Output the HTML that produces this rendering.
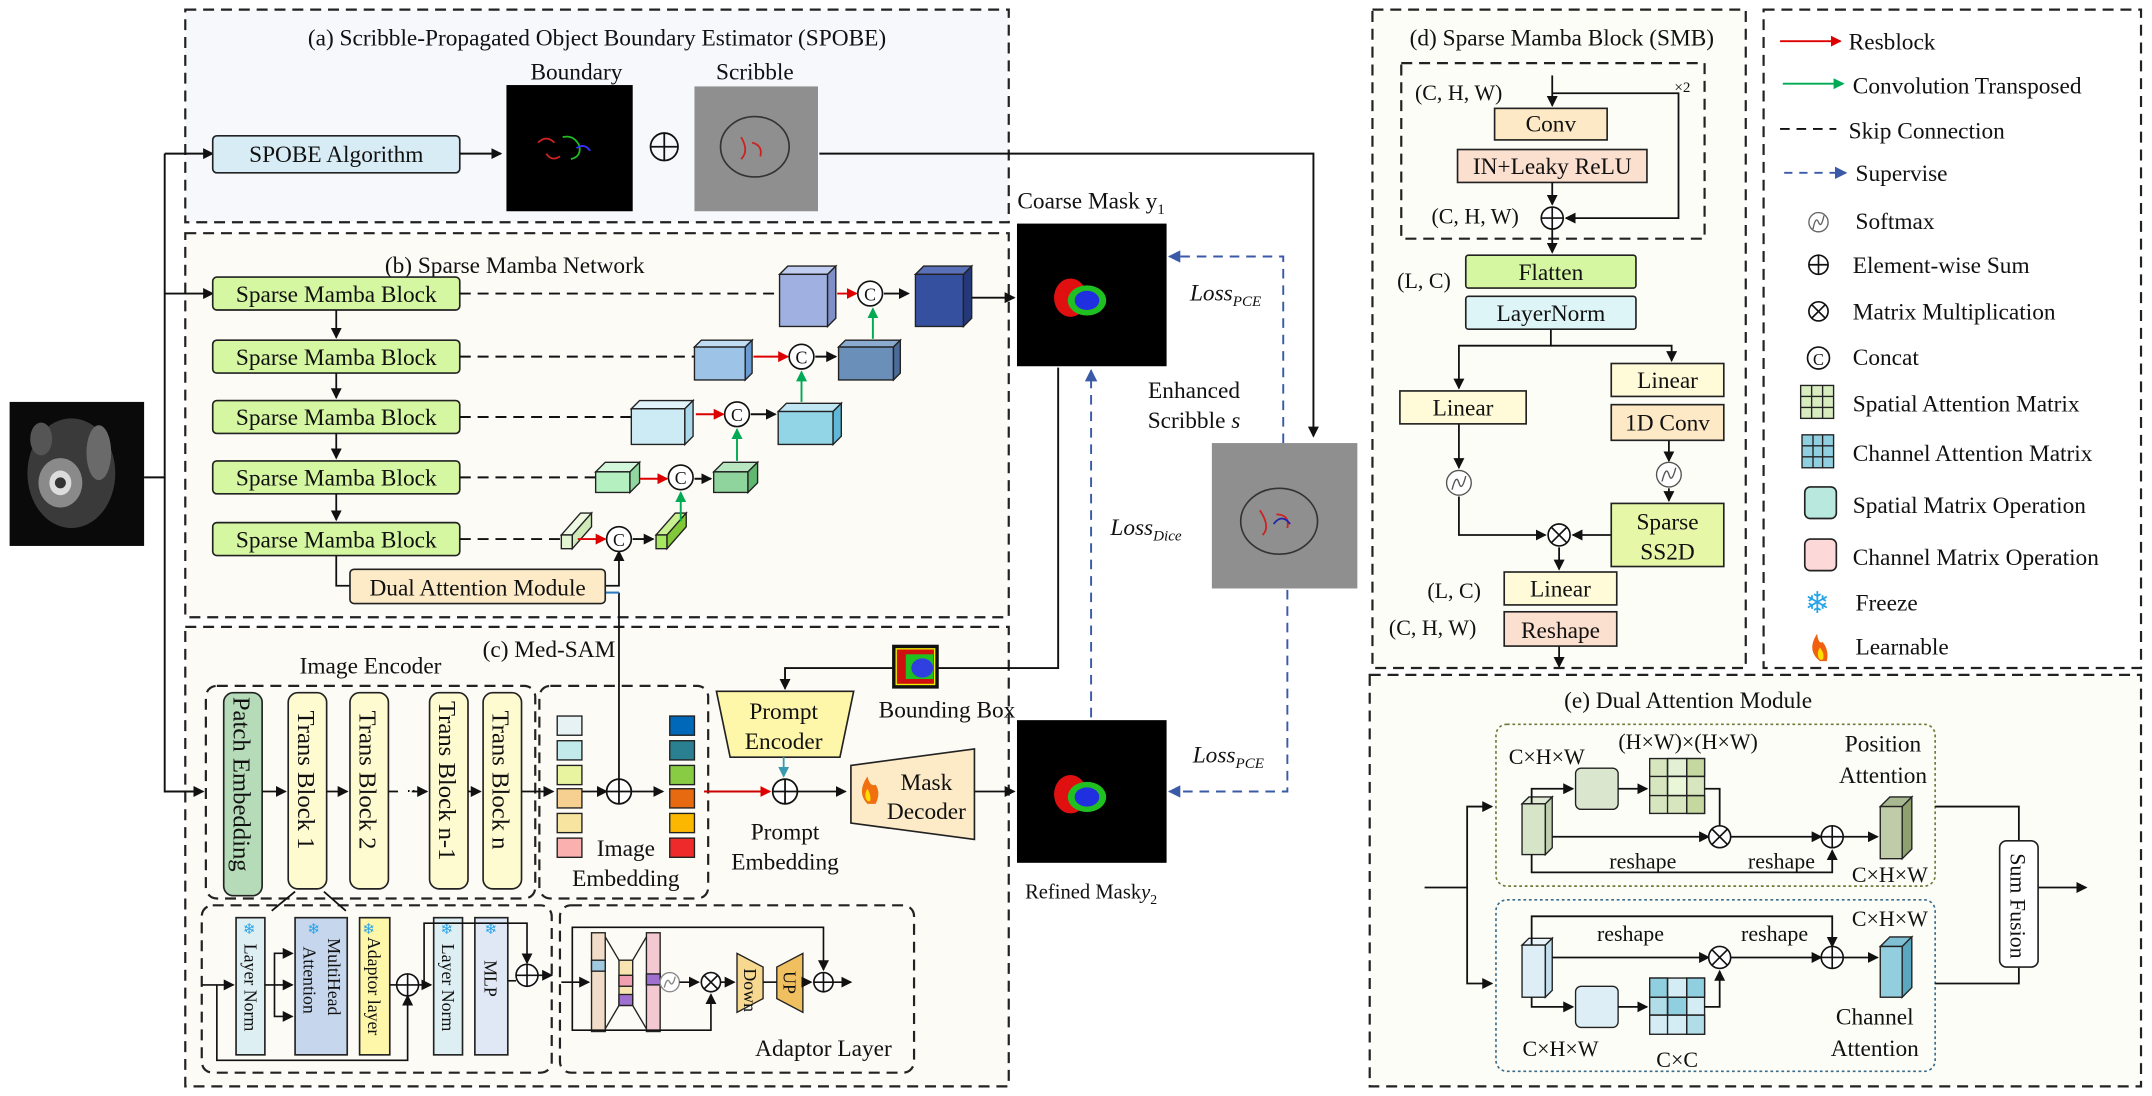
<!DOCTYPE html>
<html><head><meta charset="utf-8"><style>
html,body{margin:0;padding:0;background:#fff}
svg{display:block}
text{font-family:"Liberation Serif",serif;fill:#111}
</style></head><body>
<svg width="2152" height="1096" viewBox="0 0 1568 799" preserveAspectRatio="none" xmlns="http://www.w3.org/2000/svg">
<defs>
<marker id="ak" markerWidth="8" markerHeight="8" refX="7" refY="4" orient="auto" markerUnits="userSpaceOnUse"><path d="M0,0 L8,4 L0,8 z" fill="#111"/></marker>
<marker id="ar" markerWidth="8" markerHeight="8" refX="7" refY="4" orient="auto" markerUnits="userSpaceOnUse"><path d="M0,0 L8,4 L0,8 z" fill="#d00"/></marker>
<marker id="ag" markerWidth="8" markerHeight="8" refX="7" refY="4" orient="auto" markerUnits="userSpaceOnUse"><path d="M0,0 L8,4 L0,8 z" fill="#0a5"/></marker>
<marker id="ab" markerWidth="9" markerHeight="9" refX="8" refY="4.5" orient="auto" markerUnits="userSpaceOnUse"><path d="M0,0 L9,4.5 L0,9 z" fill="#3a5aa8"/></marker>
<marker id="at" markerWidth="8" markerHeight="8" refX="7" refY="4" orient="auto" markerUnits="userSpaceOnUse"><path d="M0,0 L8,4 L0,8 z" fill="#3a9ab0"/></marker>
</defs>
<rect width="1568" height="799" fill="#fff"/>
<g fill="none" stroke="#222" stroke-width="1.6" stroke-dasharray="8,5">
<rect x="135" y="7" width="600" height="155" fill="#f6f8fc"/>
<rect x="135" y="170" width="600" height="280" fill="#fcfbf6"/>
<rect x="135" y="457" width="600" height="335" fill="#fcfbf6"/>
<rect x="1000" y="7" width="272" height="480" fill="#fcfdf7"/>
<rect x="1285" y="7" width="275" height="480" fill="#fff"/>
<rect x="998" y="492" width="562" height="300" fill="#fcfdf7"/>
<rect x="1021" y="46" width="221" height="128"/>
<rect x="150" y="500" width="240" height="155" rx="8"/>
<rect x="393" y="500" width="123" height="155" rx="8"/>
<rect x="147" y="660" width="255" height="122" rx="8"/>
<rect x="408" y="660" width="258" height="122" rx="8"/>
</g>
<!-- input image -->
<rect x="7" y="293" width="98" height="105" fill="#0a0a0a"/>
<ellipse cx="52" cy="345" rx="32" ry="40" fill="#3a3a3a"/>
<ellipse cx="44" cy="352" rx="16" ry="18" fill="#8a8a8a"/>
<ellipse cx="44" cy="352" rx="8" ry="9" fill="#dcdcdc"/>
<ellipse cx="44" cy="352" rx="4" ry="4" fill="#333"/>
<ellipse cx="72" cy="330" rx="9" ry="20" fill="#6a6a6a"/>
<ellipse cx="30" cy="320" rx="8" ry="12" fill="#555"/>
<g stroke="#111" stroke-width="1.4" fill="none">
<path d="M105,348 H120 V112"/>
<path d="M120,112 H155" marker-end="url(#ak)"/>
<path d="M120,214 H155" marker-end="url(#ak)"/>
<path d="M120,348 V577 H148" marker-end="url(#ak)"/>
</g>
<text x="435" y="33" font-size="17" text-anchor="middle">(a) Scribble-Propagated Object Boundary Estimator (SPOBE)</text>
<text x="420" y="58" font-size="17" text-anchor="middle">Boundary</text>
<text x="550" y="58" font-size="17" text-anchor="middle">Scribble</text>
<rect x="155" y="99" width="180" height="27" rx="3" fill="#d8ecf6" stroke="#222" stroke-width="1.2"/>
<text x="245" y="118" font-size="17" text-anchor="middle">SPOBE Algorithm</text>
<path d="M335,112 H365" stroke="#111" stroke-width="1.4" marker-end="url(#ak)"/>
<rect x="369" y="62" width="92" height="92" fill="#000"/>
<path d="M392,104 q6,-6 12,0 M398,112 q4,6 10,2" fill="none" stroke="#c22" stroke-width="1.3"/>
<path d="M410,100 q8,-2 12,6 q2,8 -6,10" fill="none" stroke="#2b2" stroke-width="1.3"/>
<path d="M420,108 q6,-4 10,2" fill="none" stroke="#33f" stroke-width="1.3"/>
<circle cx="484" cy="107" r="10" fill="none" stroke="#111" stroke-width="1.3"/><path d="M474,107 H494 M484,97 V117" stroke="#111" stroke-width="1.3"/>
<rect x="506" y="63" width="90" height="91" fill="#8f8f8f"/>
<ellipse cx="550" cy="107" rx="25" ry="22" fill="none" stroke="#333" stroke-width="1.2"/>
<path d="M540,100 q6,10 0,16 M548,104 q8,2 6,10" fill="none" stroke="#c22" stroke-width="1.3"/>
<path d="M597,112 H957 V318" fill="none" stroke="#111" stroke-width="1.4" marker-end="url(#ak)"/>
<!-- (b) -->
<text x="375" y="199" font-size="17" text-anchor="middle">(b) Sparse Mamba Network</text>
<g stroke="#222" stroke-width="1.2" fill="#d6f7a2">
<rect x="155" y="202" width="180" height="24" rx="3"/>
<rect x="155" y="248" width="180" height="24" rx="3"/>
<rect x="155" y="292" width="180" height="24" rx="3"/>
<rect x="155" y="336" width="180" height="24" rx="3"/>
<rect x="155" y="381" width="180" height="24" rx="3"/>
</g>
<g font-size="17" text-anchor="middle">
<text x="245" y="220">Sparse Mamba Block</text>
<text x="245" y="266">Sparse Mamba Block</text>
<text x="245" y="310">Sparse Mamba Block</text>
<text x="245" y="354">Sparse Mamba Block</text>
<text x="245" y="399">Sparse Mamba Block</text>
</g>
<g stroke="#111" stroke-width="1.3" fill="none">
<path d="M245,226 V246" marker-end="url(#ak)"/>
<path d="M245,272 V290" marker-end="url(#ak)"/>
<path d="M245,316 V334" marker-end="url(#ak)"/>
<path d="M245,360 V379" marker-end="url(#ak)"/>
<path d="M245,405 V427 H255"/>
<path d="M441,427 H451 V402" marker-end="url(#ak)"/>
<path d="M451,432 V570" />
</g>
<path d="M441,432 H451" stroke="#2a7ac0" stroke-width="1.5"/>
<g stroke="#111" stroke-width="1.4" stroke-dasharray="8,5" fill="none">
<path d="M335,214 H568"/><path d="M335,260 H506"/><path d="M335,304 H460"/><path d="M335,348 H434"/><path d="M335,393 H409"/>
</g>
<g stroke="#222" stroke-width="1">
<polygon points="568,200 574,194 609,194 603,200" fill="#c0ccf0"/><rect x="568" y="200" width="35" height="38" fill="#a0b0e0"/><polygon points="603,200 609,194 609,232 603,238" fill="#7f90c8"/>
<polygon points="667,200 673,194 708,194 702,200" fill="#5a70b8"/><rect x="667" y="200" width="35" height="38" fill="#3650a0"/><polygon points="702,200 708,194 708,232 702,238" fill="#24397a"/>
<polygon points="506,253 511,248 548,248 543,253" fill="#c0dcf2"/><rect x="506" y="253" width="37" height="24" fill="#9dc3e6"/><polygon points="543,253 548,248 548,272 543,277" fill="#6a9ad0"/>
<polygon points="611,253 616,248 656,248 651,253" fill="#8aaad0"/><rect x="611" y="253" width="40" height="24" fill="#6a8fb8"/><polygon points="651,253 656,248 656,272 651,277" fill="#4a6a98"/>
<polygon points="460,298 466,292 505,292 499,298" fill="#e2f4fa"/><rect x="460" y="298" width="39" height="26" fill="#cdebf5"/><polygon points="499,298 505,292 505,318 499,324" fill="#a8d8ea"/>
<polygon points="567,300 573,294 613,294 607,300" fill="#bfe6f2"/><rect x="567" y="300" width="40" height="24" fill="#92d5e6"/><polygon points="607,300 613,294 613,318 607,324" fill="#60b8d8"/>
<polygon points="434,344 441,337 466,337 459,344" fill="#d2f7da"/><rect x="434" y="344" width="25" height="15" fill="#b5f0c0"/><polygon points="459,344 466,337 466,352 459,359" fill="#90d8a0"/>
<polygon points="520,344 527,337 552,337 545,344" fill="#b8e6c0"/><rect x="520" y="344" width="25" height="15" fill="#8fd49c"/><polygon points="545,344 552,337 552,352 545,359" fill="#60b870"/>
<polygon points="409,390 423,374 431,374 417,390" fill="#eef9e4"/><rect x="409" y="390" width="8" height="10" fill="#e4f5d4"/><polygon points="417,390 431,374 431,384 417,400" fill="#cfeab8"/>
<polygon points="478,390 492,374 500,374 486,390" fill="#c8f090"/><rect x="478" y="390" width="8" height="10" fill="#a8e860"/><polygon points="486,390 500,374 500,384 486,400" fill="#80c838"/>
</g>
<g stroke-width="1.4" fill="none">
<path d="M610,214 H624" stroke="#d00" marker-end="url(#ar)"/>
<path d="M644,214 H662" stroke="#111" marker-end="url(#ak)"/>
<path d="M549,260 H574" stroke="#d00" marker-end="url(#ar)"/>
<path d="M594,260 H609" stroke="#111" marker-end="url(#ak)"/>
<path d="M507,302 H527" stroke="#d00" marker-end="url(#ar)"/>
<path d="M547,302 H565" stroke="#111" marker-end="url(#ak)"/>
<path d="M466,349 H486" stroke="#d00" marker-end="url(#ar)"/>
<path d="M506,349 H518" stroke="#111" marker-end="url(#ak)"/>
<path d="M421,393 H441" stroke="#d00" marker-end="url(#ar)"/>
<path d="M461,393 H476" stroke="#111" marker-end="url(#ak)"/>
<path d="M636,247 V225" stroke="#0a5" marker-end="url(#ag)"/>
<path d="M584,293 V271" stroke="#0a5" marker-end="url(#ag)"/>
<path d="M537,336 V313" stroke="#0a5" marker-end="url(#ag)"/>
<path d="M496,380 V359" stroke="#0a5" marker-end="url(#ag)"/>
<path d="M708,217 H739" stroke="#111" marker-end="url(#ak)"/>
</g>
<g fill="#fff" stroke="#111" stroke-width="1.2">
<circle cx="634" cy="214" r="9"/><circle cx="584" cy="260" r="9"/><circle cx="537" cy="302" r="9"/><circle cx="496" cy="348" r="9"/><circle cx="451" cy="393" r="9"/>
</g>
<g font-size="13" text-anchor="middle">
<text x="634" y="219">C</text><text x="584" y="265">C</text><text x="537" y="307">C</text><text x="496" y="353">C</text><text x="451" y="398">C</text>
</g>
<rect x="255" y="415" width="186" height="25" rx="3" fill="#fdebc8" stroke="#222" stroke-width="1.2"/>
<text x="348" y="434" font-size="17" text-anchor="middle">Dual Attention Module</text>
<!-- masks -->
<text x="795" y="152" font-size="17" text-anchor="middle">Coarse Mask  y<tspan font-size="11" dy="4">1</tspan></text>
<rect x="741" y="163" width="109" height="104" fill="#000"/>
<ellipse cx="780" cy="217" rx="12" ry="14" fill="#e01010"/>
<ellipse cx="792" cy="219" rx="14" ry="11" fill="#20c020"/>
<ellipse cx="792" cy="219" rx="9" ry="7" fill="#2030e0"/>
<text x="870" y="290" font-size="17" text-anchor="middle">Enhanced</text>
<text x="870" y="312" font-size="17" text-anchor="middle">Scribble <tspan font-style="italic">s</tspan></text>
<text x="893" y="219" font-size="17" font-style="italic" text-anchor="middle">Loss<tspan font-size="11" dy="4">PCE</tspan></text>
<text x="835" y="390" font-size="17" font-style="italic" text-anchor="middle">Loss<tspan font-size="11" dy="4">Dice</tspan></text>
<text x="895" y="556" font-size="17" font-style="italic" text-anchor="middle">Loss<tspan font-size="11" dy="4">PCE</tspan></text>
<rect x="883" y="323" width="106" height="106" fill="#8f8f8f"/>
<ellipse cx="932" cy="380" rx="28" ry="24" fill="none" stroke="#333" stroke-width="1.2"/>
<path d="M918,372 q8,12 2,18 M930,375 q10,0 8,10" fill="none" stroke="#c22" stroke-width="1.3"/>
<path d="M928,382 q6,-8 12,0" fill="none" stroke="#22a" stroke-width="1.3"/>
<g stroke="#3a5aa8" stroke-width="1.4" stroke-dasharray="7,5" fill="none">
<path d="M935,323 V187 H852" marker-end="url(#ab)"/>
<path d="M795,523 V270" marker-end="url(#ab)"/>
<path d="M938,430 V577 H852" marker-end="url(#ab)"/>
</g>
<path d="M771,268 V487 H572 V502" fill="none" stroke="#111" stroke-width="1.4" marker-end="url(#ak)"/>
<rect x="741" y="525" width="109" height="104" fill="#000"/>
<ellipse cx="780" cy="579" rx="12" ry="14" fill="#e01010"/>
<ellipse cx="792" cy="581" rx="14" ry="11" fill="#20c020"/>
<ellipse cx="792" cy="581" rx="9" ry="7" fill="#2030e0"/>
<text x="795" y="655" font-size="15" text-anchor="middle">Refined  Mask<tspan font-style="italic">y</tspan><tspan font-size="10" dy="4">2</tspan></text>
<!-- (c) -->
<text x="400" y="479" font-size="17" text-anchor="middle">(c) Med-SAM</text>
<text x="270" y="491" font-size="17" text-anchor="middle">Image Encoder</text>
<rect x="163" y="505" width="28" height="148" rx="7" fill="#b5dbb8" stroke="#222" stroke-width="1.2"/>
<g fill="#fffbd0" stroke="#222" stroke-width="1.2">
<rect x="210" y="505" width="28" height="143" rx="7"/><rect x="255" y="505" width="28" height="143" rx="7"/><rect x="313" y="505" width="28" height="143" rx="7"/><rect x="352" y="505" width="28" height="143" rx="7"/>
</g>
<g font-size="18">
<text transform="translate(170,508) rotate(90)">Patch Embedding</text>
<text transform="translate(217,518) rotate(90)">Trans Block 1</text>
<text transform="translate(262,518) rotate(90)">Trans Block 2</text>
<text transform="translate(320,511) rotate(90)">Trans Block n-1</text>
<text transform="translate(359,518) rotate(90)">Trans Block n</text>
</g>
<text x="296" y="580" font-size="11">⋯</text>
<g stroke="#111" stroke-width="1.3" fill="none">
<path d="M191,577 H208" marker-end="url(#ak)"/><path d="M238,577 H253" marker-end="url(#ak)"/><path d="M283,577 H290"/><path d="M300,577 H311" marker-end="url(#ak)"/><path d="M341,577 H350" marker-end="url(#ak)"/>
<path d="M380,577 H403" marker-end="url(#ak)"/>
<path d="M420,577 H442" marker-end="url(#ak)"/><path d="M460,577 H483" marker-end="url(#ak)"/>
<path d="M580,577 H616" marker-end="url(#ak)"/>
<path d="M710,577 H739" marker-end="url(#ak)"/>
<path d="M451,570 V568" marker-end="url(#ak)"/>
<path d="M215,650 L198,664 M236,650 L252,664"/>
</g>
<path d="M513,577 H561" stroke="#c00" stroke-width="1.4" marker-end="url(#ar)"/>
<g stroke="#222" stroke-width="1">
<rect x="406" y="522" width="18" height="14" fill="#e6f2f4"/><rect x="406" y="540" width="18" height="14" fill="#c2eaea"/><rect x="406" y="558" width="18" height="14" fill="#e8f4a0"/><rect x="406" y="575" width="18" height="14" fill="#f6d090"/><rect x="406" y="593" width="18" height="14" fill="#f6e4a0"/><rect x="406" y="611" width="18" height="14" fill="#fbb0b0"/>
<rect x="488" y="522" width="18" height="14" fill="#0068b8"/><rect x="488" y="540" width="18" height="14" fill="#2a8090"/><rect x="488" y="558" width="18" height="14" fill="#88cc44"/><rect x="488" y="575" width="18" height="14" fill="#e86a10"/><rect x="488" y="593" width="18" height="14" fill="#fcb800"/><rect x="488" y="611" width="18" height="14" fill="#ee2a2a"/>
</g>
<circle cx="451" cy="577" r="9" fill="#fff" stroke="#111" stroke-width="1.3"/><path d="M442,577 H460 M451,568 V586" stroke="#111" stroke-width="1.3"/>
<text x="456" y="624" font-size="17" text-anchor="middle">Image</text>
<text x="456" y="646" font-size="17" text-anchor="middle">Embedding</text>
<polygon points="522,504 622,504 612,552 532,552" fill="#fef6a8" stroke="#222" stroke-width="1.2"/>
<text x="571" y="524" font-size="17" text-anchor="middle">Prompt</text>
<text x="571" y="546" font-size="17" text-anchor="middle">Encoder</text>
<path d="M571,552 V566" stroke="#3a9ab0" stroke-width="1.3" marker-end="url(#at)"/>
<circle cx="572" cy="577" r="9" fill="#fff" stroke="#111" stroke-width="1.3"/><path d="M563,577 H581 M572,568 V586" stroke="#111" stroke-width="1.3"/>
<text x="572" y="612" font-size="17" text-anchor="middle">Prompt</text>
<text x="572" y="634" font-size="17" text-anchor="middle">Embedding</text>
<rect x="650" y="470" width="34" height="32" fill="#111"/>
<rect x="653" y="473" width="28" height="26" fill="#d01010" stroke="#ee0" stroke-width="1"/>
<rect x="660" y="477" width="20" height="18" fill="#20c020"/><ellipse cx="672" cy="487" rx="8" ry="7" fill="#3040e0"/>
<text x="690" y="523" font-size="17" text-anchor="middle">Bounding Box</text>
<polygon points="620,558 710,546 710,612 620,600" fill="#fdebc8" stroke="#222" stroke-width="1.2"/>
<text x="675" y="576" font-size="17" text-anchor="middle">Mask</text>
<text x="675" y="597" font-size="17" text-anchor="middle">Decoder</text>
<path d="M632,586 q-8,-8 0,-20 q2,8 6,6 q4,6 0,14 z" fill="#f07010"/><path d="M632,584 q-3,-4 0,-9 q3,5 2,9z" fill="#fd0"/>
<g stroke="#222" stroke-width="1.2">
<rect x="172" y="669" width="21" height="100" fill="#ddeff3"/>
<rect x="215" y="669" width="38" height="100" fill="#c6d6ec"/>
<rect x="262" y="669" width="22" height="100" fill="#fef6a8"/>
<rect x="316" y="669" width="21" height="100" fill="#ddeff3"/>
<rect x="346" y="669" width="24" height="100" fill="#dfe8f4"/>
</g>
<g font-size="13">
<text transform="translate(178,688) rotate(90)">Layer Norm</text>
<text transform="translate(239,684) rotate(90)">MultiHead</text>
<text transform="translate(221,690) rotate(90)">Attention</text>
<text transform="translate(268,683) rotate(90)">Adaptor layer</text>
<text transform="translate(322,688) rotate(90)">Layer Norm</text>
<text transform="translate(353,700) rotate(90)">MLP</text>
</g>
<g fill="#29a3e8" font-size="11">
<text x="177" y="681" style="fill:#29a3e8">❄</text><text x="224" y="681" style="fill:#29a3e8">❄</text><text x="264" y="681" style="fill:#29a3e8">❄</text><text x="321" y="681" style="fill:#29a3e8">❄</text><text x="353" y="681" style="fill:#29a3e8">❄</text>
</g>
<g stroke="#111" stroke-width="1.2" fill="none">
<path d="M147,718 H170" marker-end="url(#ak)"/>
<path d="M158,718 V773 H297 V726" marker-end="url(#ak)"/>
<path d="M193,718 H213" marker-end="url(#ak)"/>
<path d="M200,718 V695 H213" marker-end="url(#ak)"/><path d="M200,718 V741 H213" marker-end="url(#ak)"/>
<path d="M284,718 H289"/><path d="M305,718 H314" marker-end="url(#ak)"/>
<path d="M309,718 V673 H384 V702" marker-end="url(#ak)"/>
<path d="M370,715 H376"/><path d="M392,711 H402" marker-end="url(#ak)"/>
</g>
<circle cx="297" cy="718" r="8" fill="#fff" stroke="#111" stroke-width="1.2"/><path d="M289,718 H305 M297,710 V726" stroke="#111" stroke-width="1.2"/>
<circle cx="384" cy="711" r="8" fill="#fff" stroke="#111" stroke-width="1.2"/><path d="M376,711 H392 M384,703 V719" stroke="#111" stroke-width="1.2"/>
<g stroke="#222" stroke-width="1">
<rect x="431" y="680" width="10" height="72" fill="#f0dcc8"/>
<rect x="451" y="700" width="10" height="33" fill="#f8e4b0"/>
<rect x="471" y="680" width="10" height="72" fill="#f4c8d0"/>
<rect x="451" y="711" width="10" height="8" fill="#f0a0b0"/><rect x="451" y="725" width="10" height="8" fill="#a070d0"/>
<rect x="471" y="710" width="10" height="8" fill="#a070d0"/><rect x="431" y="700" width="10" height="8" fill="#a0c8e0"/>
</g>
<path d="M441,683 L451,700 M441,750 L451,733 M461,700 L471,683 M461,733 L471,750" stroke="#222" stroke-width="1"/>
<circle cx="488" cy="716" r="7" fill="#fff" stroke="#888" stroke-width="1"/><path d="M484,720 q2,-8 4,-4 q2,4 4,-4" fill="none" stroke="#888"/>
<circle cx="518" cy="716" r="7" fill="#fff" stroke="#111" stroke-width="1.2"/><path d="M513,711 L523,721 M523,711 L513,721" stroke="#111" stroke-width="1.2"/>
<polygon points="537,695 556,705 556,728 537,738" fill="#f6d890" stroke="#222" stroke-width="1"/>
<polygon points="566,705 585,695 585,738 566,728" fill="#f0c060" stroke="#222" stroke-width="1"/>
<text transform="translate(542,706) rotate(90)" font-size="13">Down</text>
<text transform="translate(571,708) rotate(90)" font-size="13">UP</text>
<circle cx="600" cy="716" r="7" fill="#fff" stroke="#111" stroke-width="1.2"/><path d="M593,716 H607 M600,709 V723" stroke="#111" stroke-width="1.2"/>
<g stroke="#111" stroke-width="1.2" fill="none">
<path d="M409,716 H429" marker-end="url(#ak)"/>
<path d="M417,716 V676 H600 V707" marker-end="url(#ak)"/>
<path d="M417,716 V751 H518 V725" marker-end="url(#ak)"/>
<path d="M495,716 H509" marker-end="url(#ak)"/><path d="M525,716 H535" marker-end="url(#ak)"/>
<path d="M556,716 H566"/><path d="M585,716 H591" marker-end="url(#ak)"/><path d="M607,716 H620" marker-end="url(#ak)"/>
</g>
<text x="600" y="770" font-size="17" text-anchor="middle">Adaptor Layer</text>
<!-- (d) -->
<text x="1138" y="33" font-size="17" text-anchor="middle">(d) Sparse Mamba Block (SMB)</text>
<text x="1031" y="73" font-size="16">(C, H, W)</text>
<text x="1220" y="67" font-size="11">×2</text>
<rect x="1089" y="79" width="82" height="23" fill="#fde9c6" stroke="#222" stroke-width="1.2"/>
<text x="1130" y="96" font-size="17" text-anchor="middle">Conv</text>
<rect x="1062" y="109" width="138" height="24" fill="#fbe0d0" stroke="#222" stroke-width="1.2"/>
<text x="1131" y="127" font-size="17" text-anchor="middle">IN+Leaky ReLU</text>
<text x="1043" y="163" font-size="16">(C, H, W)</text>
<circle cx="1131" cy="159" r="8" fill="#fff" stroke="#111" stroke-width="1.2"/><path d="M1123,159 H1139 M1131,151 V167" stroke="#111" stroke-width="1.2"/>
<g stroke="#111" stroke-width="1.3" fill="none">
<path d="M1131,55 V77" marker-end="url(#ak)"/>
<path d="M1131,68 H1223 V159 H1141" marker-end="url(#ak)"/>
<path d="M1131,133 V149" marker-end="url(#ak)"/>
<path d="M1131,167 V184" marker-end="url(#ak)"/>
<path d="M1130,240 V252 H1063 V283" marker-end="url(#ak)"/>
<path d="M1130,252 H1218 V263" marker-end="url(#ak)"/>
<path d="M1063,309 V341" marker-end="url(#ak)"/>
<path d="M1216,321 V336" marker-end="url(#ak)"/>
<path d="M1216,356 V365" marker-end="url(#ak)"/>
<path d="M1063,362 V390 H1126" marker-end="url(#ak)"/>
<path d="M1174,390 H1146" marker-end="url(#ak)"/>
<path d="M1136,399 V415" marker-end="url(#ak)"/>
<path d="M1136,471 V486" marker-end="url(#ak)"/>
</g>
<rect x="1068" y="186" width="124" height="24" rx="2" fill="#d6f7a2" stroke="#222" stroke-width="1.2"/>
<text x="1130" y="204" font-size="17" text-anchor="middle">Flatten</text>
<text x="1018" y="210" font-size="16">(L, C)</text>
<rect x="1068" y="216" width="124" height="24" rx="2" fill="#ddf5f6" stroke="#222" stroke-width="1.2"/>
<text x="1130" y="234" font-size="17" text-anchor="middle">LayerNorm</text>
<rect x="1020" y="285" width="92" height="24" fill="#fffbd8" stroke="#222" stroke-width="1.2"/>
<text x="1066" y="303" font-size="17" text-anchor="middle">Linear</text>
<rect x="1174" y="265" width="82" height="24" fill="#fffbd8" stroke="#222" stroke-width="1.2"/>
<text x="1215" y="283" font-size="17" text-anchor="middle">Linear</text>
<rect x="1174" y="295" width="82" height="26" fill="#fde9c6" stroke="#222" stroke-width="1.2"/>
<text x="1215" y="314" font-size="17" text-anchor="middle">1D Conv</text>
<circle cx="1063" cy="352" r="9" fill="#fff" stroke="#555" stroke-width="1"/><path d="M1058,357 q3,-12 5,-5 q2,7 5,-5" fill="none" stroke="#555"/>
<circle cx="1216" cy="346" r="9" fill="#fff" stroke="#555" stroke-width="1"/><path d="M1211,351 q3,-12 5,-5 q2,7 5,-5" fill="none" stroke="#555"/>
<rect x="1174" y="367" width="82" height="46" fill="#e6f8a8" stroke="#222" stroke-width="1.2"/>
<text x="1215" y="386" font-size="17" text-anchor="middle">Sparse</text>
<text x="1215" y="408" font-size="17" text-anchor="middle">SS2D</text>
<circle cx="1136" cy="390" r="8" fill="#fff" stroke="#111" stroke-width="1.2"/><path d="M1130,384 L1142,396 M1142,384 L1130,396" stroke="#111" stroke-width="1.2"/>
<rect x="1096" y="417" width="82" height="24" fill="#fffbd8" stroke="#222" stroke-width="1.2"/>
<text x="1137" y="435" font-size="17" text-anchor="middle">Linear</text>
<text x="1040" y="436" font-size="16">(L, C)</text>
<rect x="1096" y="446" width="82" height="25" fill="#fbe0d0" stroke="#222" stroke-width="1.2"/>
<text x="1137" y="465" font-size="17" text-anchor="middle">Reshape</text>
<text x="1012" y="463" font-size="16">(C, H, W)</text>
<!-- legend -->
<g stroke-width="1.4" fill="none">
<path d="M1297,30 H1341" stroke="#d00" marker-end="url(#ar)"/>
<path d="M1299,61 H1343" stroke="#0a5" marker-end="url(#ag)"/>
<path d="M1297,94 H1338" stroke="#111" stroke-dasharray="7,5"/>
<path d="M1300,126 H1345" stroke="#3a5aa8" stroke-dasharray="6,5" marker-end="url(#ab)"/>
</g>
<g font-size="17">
<text x="1347" y="36">Resblock</text>
<text x="1350" y="68">Convolution Transposed</text>
<text x="1347" y="101">Skip Connection</text>
<text x="1352" y="132">Supervise</text>
<text x="1352" y="167">Softmax</text>
<text x="1350" y="199">Element-wise Sum</text>
<text x="1350" y="233">Matrix Multiplication</text>
<text x="1350" y="266">Concat</text>
<text x="1350" y="300">Spatial Attention Matrix</text>
<text x="1350" y="336">Channel Attention Matrix</text>
<text x="1350" y="374">Spatial Matrix Operation</text>
<text x="1350" y="412">Channel Matrix Operation</text>
<text x="1352" y="445">Freeze</text>
<text x="1352" y="477">Learnable</text>
</g>
<circle cx="1325" cy="162" r="7" fill="#fff" stroke="#666"/><path d="M1321,167 q2,-10 4,-5 q2,5 4,-5" fill="none" stroke="#666"/>
<circle cx="1325" cy="193" r="7" fill="#fff" stroke="#111" stroke-width="1.2"/><path d="M1318,193 H1332 M1325,186 V200" stroke="#111" stroke-width="1.2"/>
<circle cx="1325" cy="227" r="7" fill="#fff" stroke="#111" stroke-width="1.2"/><path d="M1320,222 L1330,232 M1330,222 L1320,232" stroke="#111" stroke-width="1.2"/>
<circle cx="1325" cy="261" r="8" fill="#fff" stroke="#111" stroke-width="1.2"/><text x="1325" y="266" font-size="12" text-anchor="middle">C</text>
<g stroke="#222" stroke-width="1">
<rect x="1312" y="281" width="24" height="24" fill="#d8ecc0"/><path d="M1320,281 V305 M1328,281 V305 M1312,289 H1336 M1312,297 H1336"/>
<rect x="1313" y="317" width="23" height="24" fill="#8fcfe0"/><path d="M1321,317 V341 M1328,317 V341 M1313,325 H1336 M1313,333 H1336"/>
</g>
<rect x="1315" y="355" width="23" height="23" rx="4" fill="#b8e8de" stroke="#222" stroke-width="1.2"/>
<rect x="1315" y="393" width="23" height="23" rx="4" fill="#fdd8d8" stroke="#222" stroke-width="1.2"/>
<text x="1315" y="447" font-size="22" style="fill:#29a3e8">❄</text>
<path d="M1326,482 q-10,-8 -2,-20 q1,8 4,6 q5,6 3,14 z" fill="#f06010"/><path d="M1326,481 q-3,-4 0,-9 q4,5 2,9z" fill="#fd0"/>
<!-- (e) -->
<text x="1230" y="516" font-size="17" text-anchor="middle">(e) Dual Attention Module</text>
<rect x="1090" y="528" width="320" height="118" rx="8" fill="none" stroke="#6b7b3a" stroke-width="1.2" stroke-dasharray="2,2"/>
<rect x="1090" y="656" width="320" height="125" rx="8" fill="none" stroke="#3a6b8a" stroke-width="1.2" stroke-dasharray="2,2"/>
<g stroke="#111" stroke-width="1.3" fill="none">
<path d="M1038,647 H1069 V588 H1087" marker-end="url(#ak)"/>
<path d="M1069,647 V717 H1087" marker-end="url(#ak)"/>
<path d="M1410,588 H1471 V613"/><path d="M1410,717 H1471 V705"/>
<path d="M1485,647 H1520" marker-end="url(#ak)"/>
</g>
<text x="1127" y="557" font-size="16" text-anchor="middle">C×H×W</text>
<text x="1230" y="546" font-size="16" text-anchor="middle">(H×W)×(H×W)</text>
<text x="1372" y="548" font-size="17" text-anchor="middle">Position</text>
<text x="1372" y="571" font-size="17" text-anchor="middle">Attention</text>
<g stroke="#222" stroke-width="1">
<polygon points="1109,586 1114,581 1131,581 1126,586" fill="#dfe9d4"/><rect x="1109" y="586" width="17" height="37" fill="#d6e4c8"/><polygon points="1126,586 1131,581 1131,618 1126,623" fill="#c0d0b0"/>
<rect x="1148" y="560" width="31" height="30" rx="4" fill="#dbe6cf"/>
<rect x="1202" y="553" width="40" height="40" fill="#d8e6c0"/>
<rect x="1215" y="553" width="14" height="13" fill="#e4f0d4"/><rect x="1229" y="553" width="13" height="13" fill="#c4d8a0"/><rect x="1215" y="566" width="14" height="14" fill="#eaf6d8"/><rect x="1229" y="580" width="13" height="13" fill="#c4d8a0"/>
<path d="M1215,553 V593 M1229,553 V593 M1202,566 H1242 M1202,580 H1242" fill="none"/>
<polygon points="1370,588 1377,581 1393,581 1386,588" fill="#a8b890"/><rect x="1370" y="588" width="16" height="38" fill="#c0cca8"/><polygon points="1386,588 1393,581 1393,619 1386,626" fill="#8ea070"/>
</g>
<g stroke="#111" stroke-width="1.3" fill="none">
<path d="M1116,586 V575 H1146" marker-end="url(#ak)"/>
<path d="M1179,575 H1200" marker-end="url(#ak)"/>
<path d="M1242,575 H1253 V603"/>
<path d="M1131,610 H1245" marker-end="url(#ak)"/>
<path d="M1261,610 H1327" marker-end="url(#ak)"/>
<path d="M1343,610 H1368" marker-end="url(#ak)"/>
<path d="M1116,623 V636 H1335 V620" marker-end="url(#ak)"/>
</g>
<circle cx="1253" cy="610" r="8" fill="#fff" stroke="#111" stroke-width="1.2"/><path d="M1247,604 L1259,616 M1259,604 L1247,616" stroke="#111" stroke-width="1.2"/>
<circle cx="1335" cy="610" r="8" fill="#fff" stroke="#111" stroke-width="1.2"/><path d="M1327,610 H1343 M1335,602 V618" stroke="#111" stroke-width="1.2"/>
<text x="1197" y="633" font-size="16" text-anchor="middle">reshape</text>
<text x="1298" y="633" font-size="16" text-anchor="middle">reshape</text>
<text x="1377" y="643" font-size="16" text-anchor="middle">C×H×W</text>
<text x="1377" y="675" font-size="16" text-anchor="middle">C×H×W</text>
<text x="1188" y="686" font-size="16" text-anchor="middle">reshape</text>
<text x="1293" y="686" font-size="16" text-anchor="middle">reshape</text>
<g stroke="#222" stroke-width="1">
<polygon points="1109,689 1114,684 1131,684 1126,689" fill="#e8f4fa"/><rect x="1109" y="689" width="17" height="38" fill="#ddeef6"/><polygon points="1126,689 1131,684 1131,722 1126,727" fill="#c4e0ee"/>
<rect x="1148" y="719" width="31" height="30" rx="4" fill="#ddeef6"/>
<rect x="1202" y="713" width="40" height="41" fill="#d4ecf4"/>
<rect x="1202" y="713" width="13" height="14" fill="#8fcfe0"/><rect x="1229" y="713" width="13" height="14" fill="#8fcfe0"/><rect x="1215" y="727" width="14" height="13" fill="#8fcfe0"/><rect x="1202" y="727" width="13" height="13" fill="#b0dde8"/><rect x="1229" y="740" width="13" height="14" fill="#b0dde8"/>
<path d="M1215,713 V754 M1229,713 V754 M1202,727 H1242 M1202,740 H1242" fill="none"/>
<polygon points="1370,690 1377,683 1393,683 1386,690" fill="#7fc0d4"/><rect x="1370" y="690" width="16" height="37" fill="#92cede"/><polygon points="1386,690 1393,683 1393,720 1386,727" fill="#5aa8c0"/>
</g>
<g stroke="#111" stroke-width="1.3" fill="none">
<path d="M1116,689 V668 H1335 V690" marker-end="url(#ak)"/>
<path d="M1131,698 H1245" marker-end="url(#ak)"/>
<path d="M1261,698 H1327" marker-end="url(#ak)"/>
<path d="M1343,698 H1368" marker-end="url(#ak)"/>
<path d="M1116,727 V734 H1146" marker-end="url(#ak)"/>
<path d="M1179,734 H1200" marker-end="url(#ak)"/>
<path d="M1242,734 H1253 V708" marker-end="url(#ak)"/>
</g>
<circle cx="1253" cy="698" r="8" fill="#fff" stroke="#111" stroke-width="1.2"/><path d="M1247,692 L1259,704 M1259,692 L1247,704" stroke="#111" stroke-width="1.2"/>
<circle cx="1335" cy="698" r="8" fill="#fff" stroke="#111" stroke-width="1.2"/><path d="M1327,698 H1343 M1335,690 V706" stroke="#111" stroke-width="1.2"/>
<text x="1137" y="770" font-size="16" text-anchor="middle">C×H×W</text>
<text x="1222" y="778" font-size="16" text-anchor="middle">C×C</text>
<text x="1366" y="747" font-size="17" text-anchor="middle">Channel</text>
<text x="1366" y="770" font-size="17" text-anchor="middle">Attention</text>
<rect x="1457" y="613" width="28" height="92" rx="5" fill="#fff" stroke="#222" stroke-width="1.2"/>
<text transform="translate(1465,622) rotate(90)" font-size="16">Sum Fusion</text>
</svg>
</body></html>
